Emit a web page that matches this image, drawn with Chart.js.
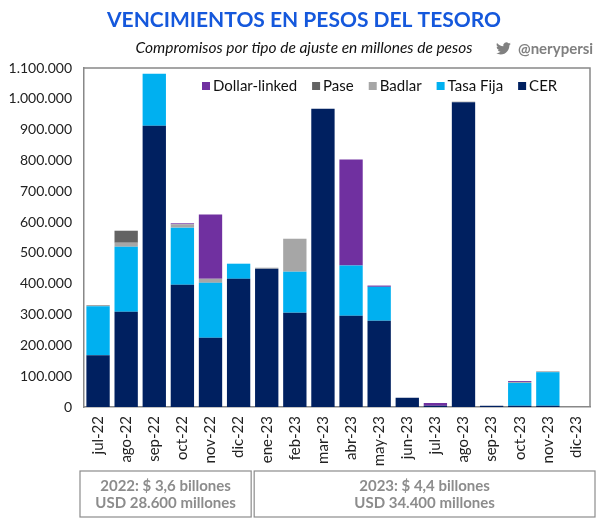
<!DOCTYPE html>
<html lang="es">
<head>
  <meta charset="UTF-8">
  <title>Vencimientos en pesos del Tesoro</title>
  <script src="https://cdn.jsdelivr.net/npm/chart.js@4.4.1/dist/chart.umd.min.js"></script>
  <style>
    html, body { margin: 0; padding: 0; background: #fff; }
    canvas { display: block; }
  </style>
</head>
<body>
  <canvas id="vencimientos" width="609" height="521"></canvas>

  <script>
    // datos (millones de pesos)
    const months = ['jul-22', 'ago-22', 'sep-22', 'oct-22', 'nov-22', 'dic-22',
      'ene-23', 'feb-23', 'mar-23', 'abr-23', 'may-23', 'jun-23',
      'jul-23', 'ago-23', 'sep-23', 'oct-23', 'nov-23', 'dic-23'];

    const cer          = [168000, 309000, 913000, 397000, 225000, 416000, 449000, 306000, 968000, 296000, 280000, 30000, 4000, 989000, 4000, 4000, 4000, 0];
    const tasaFija     = [159000, 211000, 168000, 185000, 178000, 49000, 0, 133000, 0, 163000, 110000, 0, 0, 0, 0, 74000, 109000, 0];
    const badlar       = [4000, 13000, 0, 11000, 13000, 0, 3000, 107000, 0, 0, 0, 0, 0, 2000, 0, 3000, 3000, 0];
    const pase         = [0, 39000, 0, 0, 0, 0, 0, 0, 0, 0, 0, 0, 0, 0, 0, 0, 0, 0];
    const dollarLinked = [0, 0, 0, 3000, 209000, 0, 0, 0, 0, 344000, 4000, 0, 9000, 0, 0, 3000, 0, 0];

    const yTicks = [0, 100000, 200000, 300000, 400000, 500000, 600000, 700000, 800000, 900000, 1000000, 1100000];

    const title = 'VENCIMIENTOS EN PESOS DEL TESORO';
    const subtitle = 'Compromisos por tipo de ajuste en millones de pesos';
    const handle = '@nerypersi';
    const boxes = [
      { from: 0, to: 5, lines: ['2022: $ 3,6 billones', 'USD 28.600 millones'] },
      { from: 6, to: 17, lines: ['2023: $ 4,4 billones', 'USD 34.400 millones'] }
    ];

    const FONT = 'Lato, "Open Sans", sans-serif';

    function miles(n) {
      return n.toString().replace(/\B(?=(\d{3})+(?!\d))/g, '.');
    }

    // titulo, marco, leyenda y cajas de totales
    const extras = {
      id: 'extras',
      afterDraw(chart) {
        const c = chart.ctx;
        const area = chart.chartArea;
        const x = chart.scales.x;
        c.save();

        // titulo
        c.textAlign = 'center';
        c.textBaseline = 'middle';
        c.fillStyle = '#1558dc';
        c.font = 'bold 21px ' + FONT;
        c.fillText(title, 304, 20);

        c.fillStyle = '#111';
        c.font = 'italic 15.5px ' + FONT;
        c.fillText(subtitle, 304, 48);

        // pajarito + usuario
        c.fillStyle = '#808080';
        c.save();
        c.translate(496, 41);
        c.scale(0.62, 0.62);
        c.fill(new Path2D('M23.953 4.57a10 10 0 01-2.825.775 4.958 4.958 0 002.163-2.723c-.951.555-2.005.959-3.127 1.184a4.92 4.92 0 00-8.384 4.482C7.69 8.095 4.067 6.13 1.64 3.162a4.822 4.822 0 00-.666 2.475c0 1.710.87 3.213 2.188 4.096a4.904 4.904 0 01-2.228-.616v.06a4.923 4.923 0 003.946 4.827 4.996 4.996 0 01-2.212.085 4.936 4.936 0 004.604 3.417 9.867 9.867 0 01-6.102 2.105c-.39 0-.779-.023-1.17-.067a13.995 13.995 0 007.557 2.209c9.053 0 13.998-7.496 13.998-13.985 0-.21 0-.42-.015-.63A9.935 9.935 0 0024 4.59z'));
        c.restore();
        c.textAlign = 'left';
        c.font = 'bold 15px ' + FONT;
        c.fillText(handle, 518, 49);

        // marco arriba y derecha
        c.strokeStyle = '#888';
        c.lineWidth = 1.5;
        c.beginPath();
        c.moveTo(area.left, area.top);
        c.lineTo(area.right, area.top);
        c.lineTo(area.right, area.bottom);
        c.stroke();

        // leyenda dentro del grafico
        c.font = '15px ' + FONT;
        c.textBaseline = 'middle';
        let lx = 202;
        const ly = 86;
        chart.data.datasets.slice().reverse().forEach(ds => {
          c.fillStyle = ds.backgroundColor;
          c.fillRect(lx, ly - 4, 8, 8);
          c.fillStyle = '#111';
          c.fillText(ds.label, lx + 11, ly);
          lx += 11 + c.measureText(ds.label).width + 15;
        });

        // cajas de totales
        const half = (x.getPixelForValue(1) - x.getPixelForValue(0)) / 2;
        c.strokeStyle = '#8c8c8c';
        c.lineWidth = 1.2;
        c.font = 'bold 15px ' + FONT;
        c.textAlign = 'center';
        boxes.forEach((b, i) => {
          const x0 = x.getPixelForValue(b.from) - half - (i === 0 ? 4 : -1.5);
          const x1 = x.getPixelForValue(b.to) + half + (i === 0 ? -1.5 : 5);
          c.strokeRect(x0, 471, x1 - x0, 46);
          c.fillStyle = '#8c8c8c';
          c.fillText(b.lines[0], (x0 + x1) / 2, 486);
          c.fillText(b.lines[1], (x0 + x1) / 2, 503);
        });

        c.restore();
      }
    };

    const ctx = document.getElementById('vencimientos').getContext('2d');

    const chart = new Chart(ctx, {
      type: 'bar',
      data: {
        labels: months,
        datasets: [
          { label: 'CER', data: cer, backgroundColor: '#002060' },
          { label: 'Tasa Fija', data: tasaFija, backgroundColor: '#00b0f0' },
          { label: 'Badlar', data: badlar, backgroundColor: '#a6a6a6' },
          { label: 'Pase', data: pase, backgroundColor: '#636363' },
          { label: 'Dollar-linked', data: dollarLinked, backgroundColor: '#7030a0' }
        ]
      },
      options: {
        responsive: false,
        animation: false,
        layout: { padding: { top: 68, right: 19, left: 0, bottom: 0 } },
        datasets: {
          bar: { barPercentage: 0.83, categoryPercentage: 1, borderWidth: 0 }
        },
        plugins: {
          legend: { display: false },
          tooltip: { enabled: false }
        },
        scales: {
          x: {
            stacked: true,
            grid: { display: false, drawTicks: false },
            border: { display: true, color: '#888', width: 1.5 },
            ticks: {
              autoSkip: false,
              minRotation: 90,
              maxRotation: 90,
              padding: 9,
              color: '#222',
              font: { family: FONT, size: 15 }
            },
            afterFit(scale) { scale.height = 114; }
          },
          y: {
            stacked: true,
            min: 0,
            max: 1100000,
            grid: { display: false, drawTicks: false },
            border: { display: true, color: '#888', width: 1.5 },
            afterBuildTicks(scale) { scale.ticks = yTicks.map(v => ({ value: v })); },
            ticks: {
              padding: 12,
              color: '#222',
              font: { family: FONT, size: 14 },
              callback: v => miles(v)
            },
            afterFit(scale) { scale.width = 84; }
          }
        }
      },
      plugins: [extras]
    });
  </script>
</body>
</html>
